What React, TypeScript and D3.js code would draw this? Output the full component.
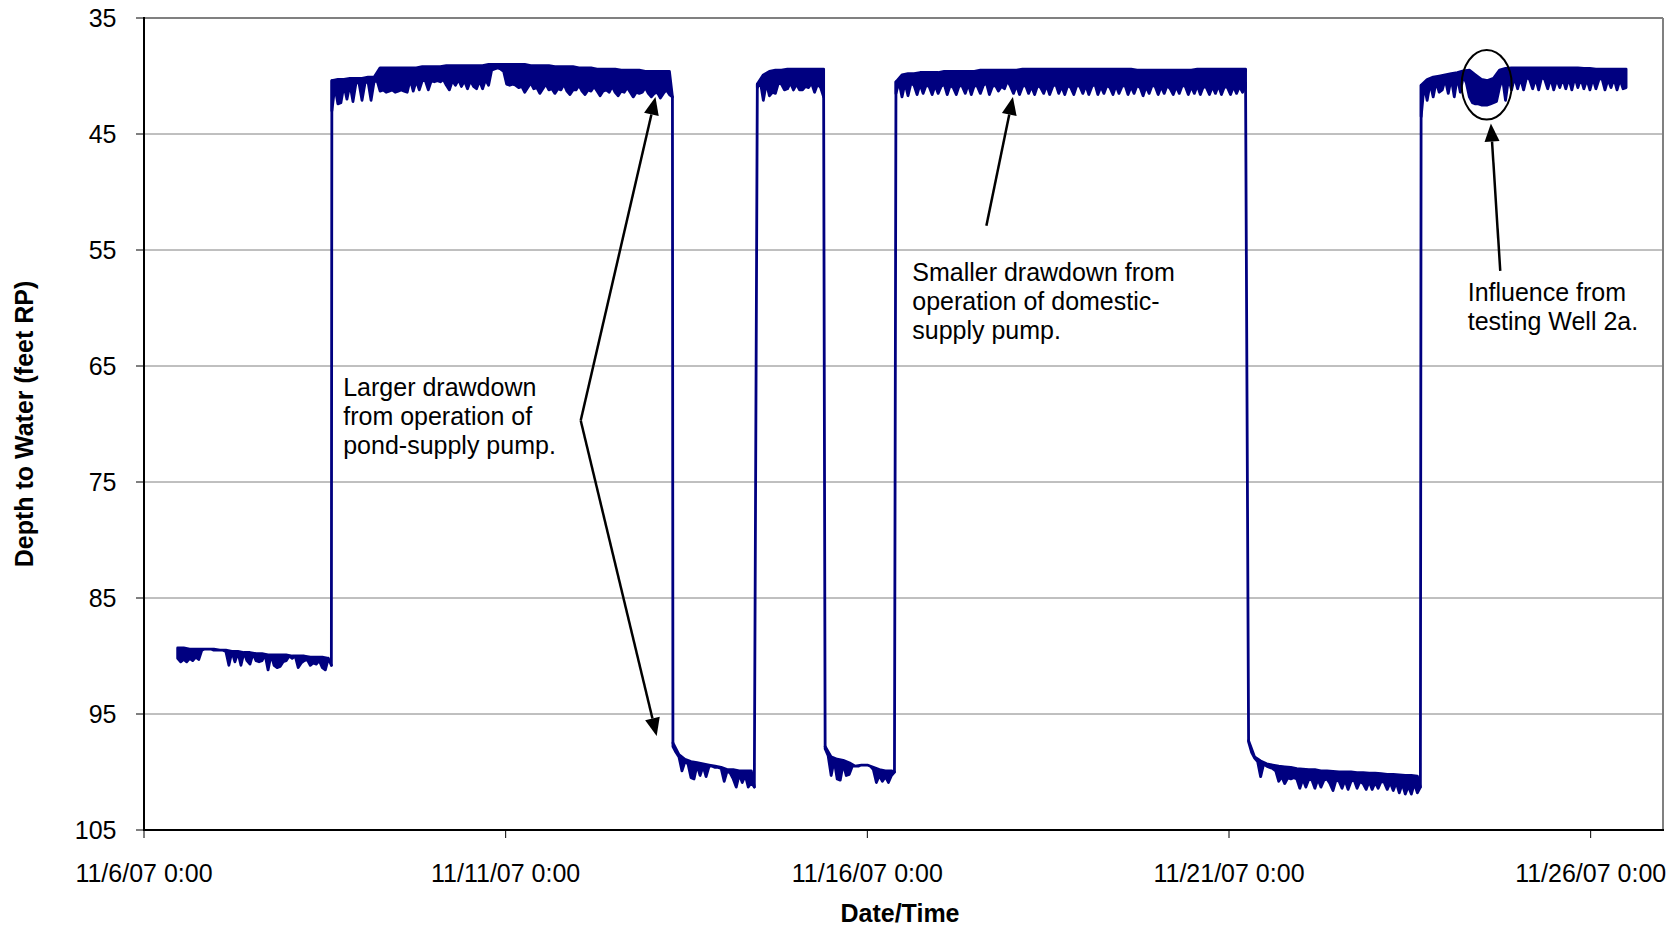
import React from 'react';
import * as d3 from 'd3';

const parseTime = d3.utcParse('%m/%d/%y %H:%M');
const HOUR = 3600 * 1000;

const xTickLabels = ['11/6/07 0:00', '11/11/07 0:00', '11/16/07 0:00', '11/21/07 0:00', '11/26/07 0:00'];
const yTicks = [35, 45, 55, 65, 75, 85, 95, 105];

// start of each logged stretch (pump off / pump on)
const segmentStarts = [
    '11/6/07 11:10', '11/8/07 14:20', '11/13/07 7:30', '11/14/07 11:30',
    '11/15/07 10:00', '11/16/07 9:30', '11/21/07 6:30', '11/23/07 15:45',
];

// static water level, every 2 hours from segment start (feet below RP)
const level0 = [89.3, 89.3, 89.4, 89.4, 89.4, 89.4, 89.4, 89.5, 89.5, 89.6, 89.6, 89.7, 89.7,
    89.8, 89.8, 89.9, 89.9, 89.9, 89.9, 90.0, 90.0, 90.0, 90.1, 90.1, 90.1, 90.2];
const level1 = [40.4, 40.3, 40.3, 40.2, 40.2, 40.2, 40.1, 40.1,
    39.3, 39.3, 39.3, 39.3, 39.3, 39.3, 39.3, 39.2,
    39.2, 39.2, 39.2, 39.1, 39.1, 39.1, 39.1, 39.1, 39.1, 39.1,
    39.0, 39.0, 39.0, 39.0, 39.0, 39.0, 39.0, 39.1, 39.1, 39.1, 39.1, 39.2, 39.2,
    39.2, 39.2, 39.3, 39.3, 39.3, 39.4, 39.4, 39.4, 39.4,
    39.5, 39.5, 39.5, 39.5, 39.6, 39.6, 39.6, 39.6, 39.6];
const level2 = [97.5, 98.5, 98.9, 99.1, 99.2, 99.3, 99.4, 99.5, 99.6, 99.8, 99.8, 99.9, 99.9, 99.9];
const level3 = [40.7, 39.9, 39.6, 39.5, 39.5, 39.4, 39.4, 39.4, 39.4, 39.4, 39.4, 39.4];
const level4 = [97.8, 98.7, 98.9, 99.0, 99.2, 99.5, 99.4, 99.4, 99.6, 99.8, 99.9, 99.9];
const level5 = [40.5, 39.9, 39.8, 39.8, 39.7, 39.7, 39.7,
    39.7, 39.6, 39.6, 39.6, 39.6, 39.6,
    39.6, 39.5, 39.5, 39.5, 39.5, 39.5, 39.5, 39.5,
    39.4, 39.4, 39.4, 39.4, 39.4, 39.4, 39.4, 39.4, 39.4, 39.4, 39.4, 39.4, 39.4, 39.4, 39.4, 39.4, 39.4,
    39.4, 39.4, 39.5, 39.5, 39.5, 39.5, 39.5, 39.5, 39.5,
    39.5, 39.5, 39.5, 39.4, 39.4, 39.4, 39.4, 39.4, 39.4, 39.4, 39.4, 39.4];
const level6 = [97.3, 98.7, 99.05, 99.3, 99.4, 99.5, 99.55, 99.6, 99.7, 99.75,
    99.8, 99.8, 99.9, 99.9, 99.95, 100.0, 100.0, 100.0, 100.05, 100.05,
    100.1, 100.1, 100.15, 100.2, 100.2, 100.25, 100.3, 100.3, 100.35];
const level7 = [40.8, 40.3, 40.1, 40.0, 39.9, 39.8, 39.7, 39.55, 39.5, 39.9, 40.3, 40.4, 40.2, 39.5, 39.35,
    39.3, 39.3, 39.3, 39.3, 39.3, 39.3, 39.3, 39.3, 39.3, 39.3,
    39.3, 39.3, 39.35, 39.35, 39.4, 39.4, 39.4, 39.4, 39.4, 39.4];

// deepest reading within each hour (pump cycling), hourly from segment start
const draw0 = [90.2, 90.5, 90.3, 90.5, 90.2, 90.4, 90.1, 90.3, 89.5, 89.4, 89.4, 89.4,
    89.5, 89.5, 89.5, 89.5, 89.6, 90.8, 89.6, 90.5, 89.7, 90.8, 89.7, 90.4,
    90.7, 89.8, 90.4, 90.5, 90.4, 89.9, 91.2, 89.9, 90.8, 91.0, 90.9, 90.5,
    90.4, 90.0, 90.2, 90.0, 91.0, 90.6, 90.4, 90.3, 90.8, 90.6, 90.7, 90.4,
    91.0, 91.2, 90.2, 90.8];
const draw1 = [43.0, 40.9, 42.4, 42.3, 40.8, 42.0, 40.7, 42.2, 40.6, 40.6, 42.1, 40.6,
    40.5, 42.1, 40.5, 40.4, 41.3, 41.2, 41.4, 41.3, 41.2, 41.4, 41.3, 41.2,
    41.3, 41.4, 40.3, 41.3, 40.4, 41.2, 40.4, 40.4, 41.2, 40.4, 40.5, 40.4,
    40.5, 40.3, 40.8, 41.2, 40.4, 40.8, 40.3, 40.9, 40.4, 41.1, 40.4, 40.9,
    41.1, 40.4, 41.1, 40.3, 40.8, 39.5, 39.4, 39.3, 39.4, 39.6, 40.7, 40.8,
    40.7, 40.8, 41.0, 40.9, 41.4, 41.0, 40.6, 41.1, 41.0, 41.5, 41.1, 40.7,
    41.2, 41.1, 41.5, 41.1, 41.2, 40.7, 41.3, 41.6, 41.2, 41.2, 40.8, 41.3,
    41.6, 41.2, 41.3, 40.9, 41.3, 41.7, 41.3, 41.2, 41.4, 40.9, 41.4, 41.7,
    41.3, 41.4, 41.0, 41.4, 41.8, 41.4, 41.5, 41.4, 41.0, 41.5, 41.8, 41.5,
    41.4, 41.9, 41.5, 41.2, 41.6, 41.8];
const draw2 = [97.8, 98.3, 98.7, 99.9, 99.1, 99.3, 100.5, 100.6, 99.4, 100.3, 99.5, 100.4,
    99.5, 99.5, 99.6, 99.6, 99.7, 100.8, 99.9, 100.1, 100.6, 101.3, 100.2, 100.9,
    100.3, 101.3, 100.9, 101.3];
const draw3 = [41.0, 40.5, 42.1, 40.6, 41.7, 41.4, 41.5, 40.6, 40.7, 41.2, 41.1, 40.6,
    41.2, 40.7, 41.2, 41.2, 40.9, 41.0, 40.6, 41.4, 40.7, 41.0, 41.8];
const draw4 = [98.0, 98.6, 100.3, 99.0, 100.6, 100.7, 99.3, 100.3, 100.2, 99.5, 99.5, 99.5,
    99.4, 99.4, 99.4, 99.5, 99.8, 100.9, 100.3, 100.8, 100.4, 100.9, 100.3, 100.0];
const draw5 = [41.5, 40.5, 41.8, 40.6, 41.7, 40.6, 40.8, 41.6, 40.7, 41.5, 40.8, 40.9,
    41.6, 40.8, 41.5, 40.9, 40.7, 41.6, 40.8, 41.0, 41.6, 40.8, 40.9, 41.5,
    40.7, 41.6, 40.8, 40.9, 41.5, 40.8, 40.6, 41.6, 40.9, 40.8, 41.3, 40.9,
    41.1, 40.4, 40.9, 41.5, 40.8, 41.6, 40.9, 40.8, 41.5, 40.9, 41.6, 40.8,
    41.0, 41.5, 40.8, 41.6, 40.9, 40.7, 41.5, 40.9, 41.6, 40.8, 41.0, 41.6,
    40.8, 40.9, 41.5, 40.8, 41.6, 40.9, 40.7, 41.6, 40.9, 41.5, 40.8, 41.0,
    41.6, 40.8, 41.5, 40.9, 40.8, 41.6, 40.9, 41.5, 40.8, 41.0, 41.7, 40.9,
    41.5, 40.8, 40.9, 41.6, 40.9, 41.5, 40.8, 41.1, 41.6, 40.9, 41.5, 40.8,
    40.9, 41.6, 40.9, 41.5, 40.8, 41.6, 40.9, 41.0, 41.6, 40.9, 41.5, 40.8,
    41.6, 40.9, 41.0, 41.6, 40.9, 41.5, 40.9, 41.4, 41.0];
const draw6 = [97.4, 98.3, 98.8, 99.1, 100.4, 99.3, 99.5, 99.6, 99.7, 99.9, 100.8, 100.4,
    101.0, 100.5, 100.6, 100.5, 100.6, 101.4, 100.6, 101.3, 100.6, 100.7, 101.4, 100.6,
    101.3, 100.7, 100.6, 101.0, 101.6, 100.7, 100.8, 101.4, 100.7, 101.5, 100.8, 100.7,
    101.4, 100.8, 101.0, 101.5, 100.8, 101.5, 100.9, 101.4, 100.8, 100.9, 101.5, 100.9,
    101.6, 100.9, 101.8, 101.0, 101.9, 101.2, 101.9, 101.0, 101.8, 101.3];
const draw7 = [43.5, 40.8, 42.1, 40.6, 41.8, 40.5, 41.4, 41.2, 40.3, 41.5, 40.2, 41.8,
    40.1, 41.4, 40.0, 40.6, 41.8, 42.3, 42.4, 42.4, 42.5, 42.5, 42.5, 42.4,
    42.3, 42.2, 41.0, 40.2, 42.1, 40.2, 41.2, 40.1, 41.1, 40.2, 41.2, 40.1,
    40.3, 41.1, 40.2, 41.2, 40.1, 40.3, 41.1, 40.2, 41.2, 40.3, 41.0, 40.2,
    41.1, 40.2, 41.2, 40.1, 41.0, 40.2, 41.1, 40.3, 41.2, 40.2, 41.1, 40.3,
    40.2, 41.2, 40.3, 41.0, 40.2, 41.2, 40.3, 41.1, 41.0];

const levels = [level0, level1, level2, level3, level4, level5, level6, level7];
const drawdowns = [draw0, draw1, draw2, draw3, draw4, draw5, draw6, draw7];

// annotations, placed in data units
const noteLines = [
    ['Larger drawdown', 'from operation of', 'pond-supply pump.'],
    ['Smaller drawdown from', 'operation of domestic-', 'supply pump.'],
    ['Influence from', 'testing Well 2a.'],
];
const noteAnchors: [string, number][] = [['11/8/07 18:06', 66.8], ['11/16/07 14:54', 56.9], ['11/24/07 7:12', 58.65]];
const arrows: [string, number][][] = [
    [['11/12/07 0:54', 69.7], ['11/13/07 1:42', 41.8]],
    [['11/12/07 0:54', 69.7], ['11/13/07 2:06', 96.9]],
    [['11/17/07 15:30', 52.9], ['11/18/07 0:18', 41.8]],
    [['11/24/07 18:00', 56.8], ['11/24/07 14:54', 44.1]],
];
const circleCenter: [string, number] = ['11/24/07 13:30', 40.75];

const FONT = '"Liberation Sans", Arial, Helvetica, sans-serif';

const App = () => {
    const width = 1680;
    const height = 928;
    const left = 144, right = 1663, top = 18, bottom = 830;

    const x = d3.scaleUtc()
        .domain([parseTime('11/6/07 0:00')!, parseTime('11/27/07 0:00')!])
        .range([left, right]);
    const y = d3.scaleLinear().domain([35, 105]).range([top, bottom]);

    const line = d3.line<[Date, number]>().x(d => x(d[0])).y(d => y(d[1]));

    const segments = segmentStarts.map((s, i) => {
        const t0 = parseTime(s)!.getTime();
        const upper = levels[i].map((v, k) => [new Date(t0 + 2 * k * HOUR), v] as [Date, number]);
        const lower = drawdowns[i].map((v, k) => [new Date(t0 + k * HOUR), v] as [Date, number]);
        return {upper, lower};
    });

    const connectors = segments.slice(1).map((seg, i) =>
        [segments[i].lower[segments[i].lower.length - 1], seg.upper[0]] as [Date, number][]);

    const px = (p: [string, number]) => [x(parseTime(p[0])!), y(p[1])];

    const arrowShapes = arrows.map(([a, b]) => {
        const [x1, y1] = px(a);
        const [x2, y2] = px(b);
        const len = Math.hypot(x2 - x1, y2 - y1);
        const ux = (x2 - x1) / len, uy = (y2 - y1) / len;
        const hl = 18, hw = 7.5;
        const bx = x2 - ux * hl, by = y2 - uy * hl;
        const pts = [[x2, y2], [bx - uy * hw, by + ux * hw], [bx + uy * hw, by - ux * hw]];
        return {x1, y1, bx, by, pts: pts.map(p => p.join(',')).join(' ')};
    });

    const [cx, cy] = px(circleCenter);
    const crx = x(new Date(parseTime(circleCenter[0])!.getTime() + 8.3 * HOUR)) - cx;
    const cry = y(circleCenter[1] + 3.0) - cy;

    return (
        <svg width={width} height={height} style={{position: 'absolute', left: 0, top: 0, background: '#fff'}}
             fontFamily={FONT}>
            {/* gridlines */}
            {yTicks.slice(1, -1).map(t => (
                <line key={t} x1={left} x2={right} y1={y(t)} y2={y(t)} stroke="#808080" strokeWidth={1}/>
            ))}
            {/* plot frame */}
            <line x1={left} x2={right} y1={top} y2={top} stroke="#808080" strokeWidth={2}/>
            <line x1={right} x2={right} y1={top} y2={bottom} stroke="#808080" strokeWidth={2}/>

            {/* data */}
            <g fill="#000080" stroke="#000080" strokeWidth={2.8} strokeLinejoin="round" strokeLinecap="round">
                {segments.map((seg, i) => (
                    <path key={i} d={line([...seg.upper, ...seg.lower.slice().reverse()])! + 'Z'}/>
                ))}
                {connectors.map((c, i) => (
                    <path key={'c' + i} d={line(c)!} fill="none"/>
                ))}
            </g>

            {/* axes */}
            <line x1={left} x2={left} y1={top - 1} y2={bottom + 1} stroke="#000" strokeWidth={2}/>
            <line x1={left - 1} x2={right + 1} y1={bottom} y2={bottom} stroke="#000" strokeWidth={2}/>
            {yTicks.map(t => (
                <g key={t}>
                    <line x1={left - 8} x2={left} y1={y(t)} y2={y(t)} stroke="#000" strokeWidth={1}/>
                    <text x={116.5} y={y(t)} textAnchor="end" dominantBaseline="central" fontSize={25}>{t}</text>
                </g>
            ))}
            {xTickLabels.map(l => {
                const xp = x(parseTime(l)!);
                return (
                    <g key={l}>
                        <line x1={xp} x2={xp} y1={bottom} y2={bottom + 8} stroke="#000" strokeWidth={1}/>
                        <text x={xp} y={873} textAnchor="middle" dominantBaseline="central" fontSize={25}>{l}</text>
                    </g>
                );
            })}
            <text x={900} y={913} textAnchor="middle" dominantBaseline="central" fontSize={25}
                  fontWeight="bold">Date/Time</text>
            <text transform={`translate(24,${(top + bottom) / 2}) rotate(-90)`} textAnchor="middle"
                  dominantBaseline="central" fontSize={25} fontWeight="bold">Depth to Water (feet RP)</text>

            {/* annotations */}
            {noteLines.map((lines, i) => {
                const [tx, ty] = px(noteAnchors[i]);
                return lines.map((s, j) => (
                    <text key={i + '-' + j} x={tx} y={ty + j * 29} dominantBaseline="central" fontSize={25}>{s}</text>
                ));
            })}
            {arrowShapes.map((a, i) => (
                <g key={'a' + i}>
                    <line x1={a.x1} y1={a.y1} x2={a.bx} y2={a.by} stroke="#000" strokeWidth={2.5}/>
                    <polygon points={a.pts} fill="#000"/>
                </g>
            ))}
            <ellipse cx={cx} cy={cy} rx={crx} ry={cry} fill="none" stroke="#000" strokeWidth={2}/>
        </svg>
    );
};

export default App;
